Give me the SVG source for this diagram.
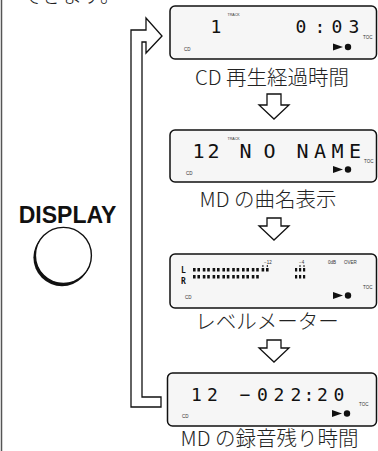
<svg xmlns="http://www.w3.org/2000/svg" width="378" height="451" viewBox="0 0 378 451">
<style>
.lbl{font-family:"Noto Sans CJK JP","Noto Sans",sans-serif;font-weight:300;font-size:20.5px;fill:#222;text-anchor:middle}
.lcd{fill:#f6f6f6;stroke:#111;stroke-width:1.5}
.dig{font-family:"DejaVu Sans Mono","Liberation Mono",monospace;font-size:18px;fill:#111;text-anchor:middle}
.big{font-size:20px}
.tiny{font-family:"Liberation Sans",Arial,sans-serif;font-size:4.5px;fill:#333}
.trk{font-size:3.6px}
.arr{fill:#fff;stroke:#111;stroke-width:1.3;stroke-linejoin:miter}
.bar{fill:#111}
</style>
<defs>
<g id="play"><polygon points="0,0 10,3.5 0,7" fill="#111"/><circle cx="15" cy="3.5" r="3.2" fill="#111"/></g>
<g id="pair"><rect x="0" y="0" width="2.6" height="3.5"/><rect x="4.4" y="0" width="2.6" height="3.5"/></g>
</defs>
<line x1="1.5" y1="0" x2="1.5" y2="451" stroke="#555" stroke-width="1.5"/>
<text x="22" y="3" font-family="'Noto Sans CJK JP',sans-serif" font-weight="300" font-size="20" fill="#222">できます。</text>

<g id="display-button">
<text x="67.5" y="223" font-family="'Liberation Sans',Arial,sans-serif" font-weight="bold" font-size="23" fill="#111" text-anchor="middle">DISPLAY</text>
<circle cx="62" cy="257.6" r="28.6" fill="#111"/>
<circle cx="63.4" cy="255.4" r="28" fill="#fff" stroke="#111" stroke-width="1.4"/>
</g>

<g id="connectors">
<polygon class="arr" points="162,36 146,53 146,42 142,42 142,397 161,397 161,407 131,407 131,30 146,30 146,18"/>
<polygon class="arr" points="267,94 281,94 281,105 289,105 274,119 259,105 267,105"/>
<polygon class="arr" points="267,218 281,218 281,226 289,226 274,240 259,226 267,226"/>
<polygon class="arr" points="267,340 281,340 281,348 289,348 274,362 259,348 267,348"/>
</g>

<g id="cd-time">
<rect class="lcd" x="170" y="6" width="206.5" height="53" rx="5"/>
<text class="dig" x="216" y="33.3">1</text>
<text class="dig" x="301 320 337 354" y="33.3">0:03</text>
<text class="tiny trk" x="227.5" y="16">TRACK</text>
<text class="tiny" x="363" y="39">TOC</text>
<text class="tiny" x="184" y="51">CD</text>
<use href="#play" x="333" y="43.5"/>
<text class="lbl" x="272" y="85">CD 再生経過時間</text>
</g>

<g id="md-title">
<rect class="lcd" x="170" y="130" width="206.5" height="52" rx="5"/>
<text class="dig big" x="198.5 213.5" y="158.3">12</text>
<text class="dig big" x="245.5 269.5" y="158.3">NO</text>
<text class="dig big" x="302.5 320 337.5 355" y="158.3">NAME</text>
<text class="tiny trk" x="227.5" y="139.5">TRACK</text>
<text class="tiny" x="364" y="163">TOC</text>
<text class="tiny" x="186" y="175">CD</text>
<use href="#play" x="333" y="166"/>
<text class="lbl" x="268" y="207">MD の曲名表示</text>
</g>

<g id="level-meter">
<rect class="lcd" x="170" y="254" width="206.5" height="54" rx="5"/>
<text x="181" y="272.5" font-family="'DejaVu Sans Mono',monospace" font-weight="bold" font-size="8" fill="#111">L</text>
<text x="181" y="283.5" font-family="'DejaVu Sans Mono',monospace" font-weight="bold" font-size="8" fill="#111">R</text>
<g class="bar">
<use href="#pair" x="193" y="268"/><use href="#pair" x="202.8" y="268"/><use href="#pair" x="212.6" y="268"/><use href="#pair" x="222.4" y="268"/>
<use href="#pair" x="232.2" y="268"/><use href="#pair" x="242" y="268"/><use href="#pair" x="251.8" y="268"/><use href="#pair" x="261.6" y="268"/>
<rect x="262.4" y="265" width="1" height="2"/><rect x="266.8" y="265" width="1" height="2"/>
<use href="#pair" x="193" y="275"/><use href="#pair" x="202.8" y="275"/><use href="#pair" x="212.6" y="275"/><use href="#pair" x="222.4" y="275"/>
<use href="#pair" x="232.2" y="275"/><use href="#pair" x="242" y="275"/><use href="#pair" x="251.8" y="275"/>
<rect x="295" y="268" width="2.2" height="3.5"/><rect x="299" y="268" width="2.2" height="3.5"/><rect x="303" y="268" width="2.2" height="3.5"/>
<rect x="299.5" y="265" width="1" height="2"/><rect x="303.5" y="265" width="1" height="2"/>
<rect x="295" y="275" width="2.2" height="3.5"/><rect x="299" y="275" width="2.2" height="3.5"/><rect x="303" y="275" width="2.2" height="3.5"/>
</g>
<text class="tiny" x="264" y="263.5">−12</text>
<text class="tiny" x="299" y="263.5">−4</text>
<text class="tiny" x="328" y="264">0dB</text>
<text class="tiny" x="344" y="264">OVER</text>
<text class="tiny" x="363" y="289">TOC</text>
<text class="tiny" x="185" y="299">CD</text>
<use href="#play" x="333" y="292"/>
<text class="lbl" x="267" y="329">レベルメーター</text>
</g>

<g id="md-remain">
<rect class="lcd" x="167.5" y="373" width="209" height="53" rx="5"/>
<text class="dig" x="196.5 212.5 245 262.5 279 296 309 322.5 339" y="401">12−022:20</text>
<text class="tiny" x="359" y="406">TOC</text>
<text class="tiny" x="182" y="418">CD</text>
<use href="#play" x="332" y="410"/>
<text class="lbl" x="269.5" y="445.5">MD の録音残り時間</text>
</g>
</svg>
